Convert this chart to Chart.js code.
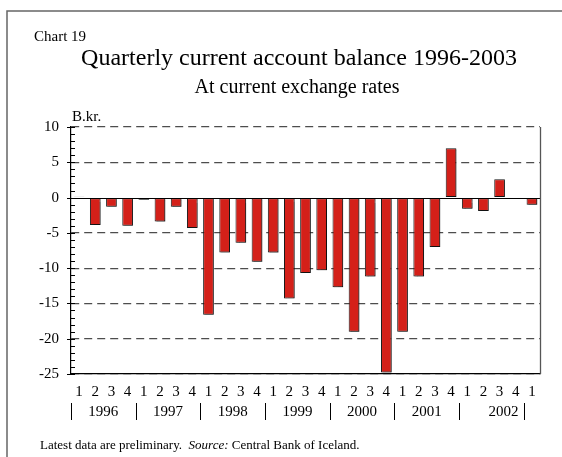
<!DOCTYPE html>
<html>
<head>
<meta charset="utf-8">
<script src="https://cdn.jsdelivr.net/npm/chart.js@4.4.0/dist/chart.umd.min.js"></script>
<style>
  html, body { margin: 0; padding: 0; background: #fff; }
  canvas { display: block; }
</style>
</head>
<body>
<canvas id="grafica" width="562" height="457"></canvas>
<script>
// quarters 1996 Q1 .. 2003 Q1
var quarterLabels = ['1','2','3','4', '1','2','3','4', '1','2','3','4', '1','2','3','4',
                     '1','2','3','4', '1','2','3','4', '1','2','3','4', '1'];
var years = ['1996', '1997', '1998', '1999', '2000', '2001', '2002'];
// current account balance, B.kr.
var balance = [0.1, -3.9, -1.3, -4.0,
               -0.3, -3.4, -1.3, -4.3,
               -16.6, -7.8, -6.4, -9.1,
               -7.8, -14.3, -10.7, -10.3,
               -12.7, -19.0, -11.2, -24.8,
               -19.0, -11.2, -7.0, 7.0,
               -1.6, -1.9, 2.6, -0.1,
               -1.0];
var yMin = -25, yMax = 10, yStep = 5;

var serif = "'Liberation Serif', 'Times New Roman', serif";
Chart.defaults.font.family = serif;
Chart.defaults.color = '#000';

var decoracion = {
    id: 'decoracion',
    beforeDatasetsDraw: function (chart) {
        var ctx = chart.ctx;
        ctx.save();
        ctx.shadowColor = 'rgba(0,0,0,0.35)';
        ctx.shadowOffsetX = 1.5;
        ctx.shadowOffsetY = 1;
        ctx.shadowBlur = 1;
    },
    afterDatasetsDraw: function (chart) {
        var ctx = chart.ctx;
        ctx.restore();
        var a = chart.chartArea;
        var y = chart.scales.y;
        var x = chart.scales.x;

        ctx.save();
        // zero line
        ctx.strokeStyle = '#000';
        ctx.lineWidth = 1.2;
        ctx.beginPath();
        ctx.moveTo(a.left - 4, Math.round(y.getPixelForValue(0)) + 0.5);
        ctx.lineTo(a.right, Math.round(y.getPixelForValue(0)) + 0.5);
        ctx.stroke();

        // right border
        ctx.strokeStyle = '#555';
        ctx.lineWidth = 1.3;
        ctx.beginPath();
        ctx.moveTo(a.right + 0.5, a.top);
        ctx.lineTo(a.right + 0.5, a.bottom);
        ctx.stroke();

        // y ticks: major cross the axis, minor inside
        ctx.strokeStyle = '#000';
        ctx.lineWidth = 1;
        for (var v = yMin; v <= yMax; v++) {
            var py = Math.round(y.getPixelForValue(v)) + 0.5;
            ctx.beginPath();
            if (v % yStep === 0) {
                ctx.moveTo(a.left - 4, py);
                ctx.lineTo(a.left + 4, py);
            } else {
                ctx.moveTo(a.left, py);
                ctx.lineTo(a.left + 4, py);
            }
            ctx.stroke();
        }

        // year labels and separators
        var ancho = (a.right - a.left) / quarterLabels.length;
        ctx.font = '15px ' + serif;
        ctx.fillStyle = '#000';
        ctx.textAlign = 'center';
        ctx.textBaseline = 'middle';
        for (var i = 0; i <= years.length; i++) {
            var sx = Math.round(x.getPixelForValue(i * 4) - ancho / 2) + 0.5;
            ctx.beginPath();
            ctx.moveTo(sx, 403);
            ctx.lineTo(sx, 420);
            ctx.stroke();
            if (i < years.length) {
                var x0 = x.getPixelForValue(i * 4) - ancho / 2;
                var x1 = (i === years.length - 1) ? a.right + 8 : x.getPixelForValue(i * 4 + 4) - ancho / 2;
                ctx.fillText(years[i], (x0 + x1) / 2, 412);
            }
        }
        ctx.restore();
    },
    afterDraw: function (chart) {
        var ctx = chart.ctx;
        ctx.save();
        // outer frame (top and left)
        ctx.strokeStyle = '#666';
        ctx.lineWidth = 1.5;
        ctx.beginPath();
        ctx.moveTo(562, 11);
        ctx.lineTo(7, 11);
        ctx.lineTo(7, 457);
        ctx.stroke();

        ctx.fillStyle = '#000';
        ctx.textBaseline = 'alphabetic';
        ctx.textAlign = 'left';
        ctx.font = '15px ' + serif;
        ctx.fillText('Chart 19', 34, 41);

        ctx.textAlign = 'center';
        ctx.font = '24px ' + serif;
        ctx.fillText('Quarterly current account balance 1996-2003', 299, 65);
        ctx.font = '20px ' + serif;
        ctx.fillText('At current exchange rates', 297, 93);

        ctx.textAlign = 'left';
        ctx.font = '15px ' + serif;
        ctx.fillText('B.kr.', 72, 121);

        // footer
        ctx.font = '13px ' + serif;
        var fx = 40, fy = 449;
        var t1 = 'Latest data are preliminary.  ';
        ctx.fillText(t1, fx, fy);
        fx += ctx.measureText(t1).width;
        ctx.font = 'italic 13px ' + serif;
        ctx.fillText('Source:', fx, fy);
        fx += ctx.measureText('Source:').width;
        ctx.font = '13px ' + serif;
        ctx.fillText(' Central Bank of Iceland.', fx, fy);
        ctx.restore();
    }
};

var ctx = document.getElementById('grafica').getContext('2d');
var chart = new Chart(ctx, {
    type: 'bar',
    plugins: [decoracion],
    data: {
        labels: quarterLabels,
        datasets: [{
            label: 'Current account balance',
            data: balance,
            backgroundColor: '#d42019',
            borderColor: '#1a1a1a',
            borderWidth: 1,
            borderSkipped: false,
            categoryPercentage: 1,
            barPercentage: 0.66
        }]
    },
    options: {
        responsive: false,
        animation: false,
        layout: { padding: { left: 0, top: 127, right: 22, bottom: 0 } },
        plugins: {
            legend: { display: false },
            tooltip: { enabled: false }
        },
        scales: {
            x: {
                grid: { display: false, drawTicks: false },
                border: { display: true, color: '#000', width: 1.2 },
                ticks: { padding: 9, font: { size: 15 }, color: '#000', maxRotation: 0, autoSkip: false },
                afterFit: function (s) { s.height = 83; }
            },
            y: {
                min: yMin,
                max: yMax,
                ticks: { stepSize: yStep, padding: 12, font: { size: 15 }, color: '#000' },
                grid: {
                    drawTicks: false,
                    lineWidth: 1.2,
                    color: function (c) { return c.tick && c.tick.value === 0 ? 'rgba(0,0,0,0)' : '#4d4d4d'; }
                },
                border: { display: true, color: '#000', width: 1.2, dash: [8, 5] },
                afterFit: function (s) { s.width = 71; }
            }
        }
    }
});
</script>
</body>
</html>
